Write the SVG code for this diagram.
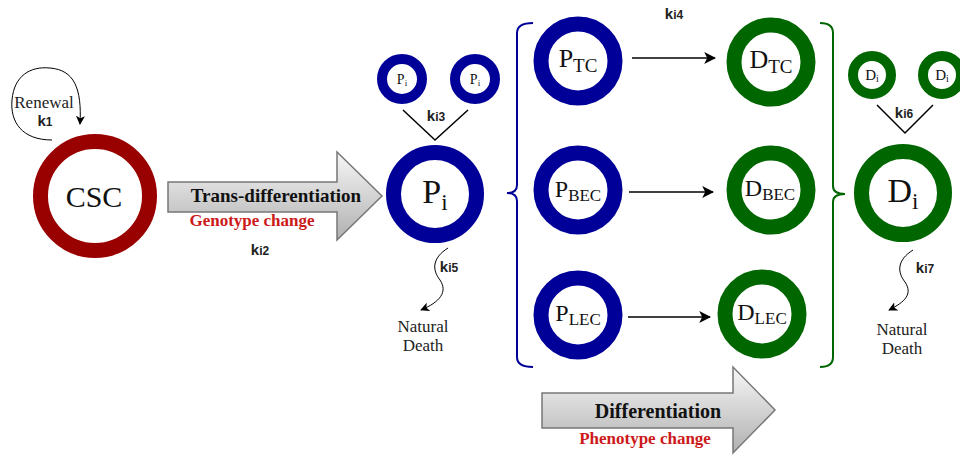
<svg xmlns="http://www.w3.org/2000/svg" width="960" height="458" viewBox="0 0 960 458">
<defs>
<linearGradient id="ag" x1="0" y1="0" x2="0" y2="1">
<stop offset="0" stop-color="#f7f7f7"/>
<stop offset="1" stop-color="#b0b0b0"/>
</linearGradient>
<marker id="ah" viewBox="0 0 10 10" refX="9" refY="5" markerWidth="9" markerHeight="9" markerUnits="userSpaceOnUse" orient="auto">
<path d="M0,0 L10,5 L0,10 L2.5,5 Z" fill="#000"/>
</marker>
<marker id="ah2" viewBox="0 0 10 10" refX="9" refY="5" markerWidth="12" markerHeight="12" markerUnits="userSpaceOnUse" orient="auto">
<path d="M0,0 L10,5 L0,10 L2.5,5 Z" fill="#000"/>
</marker>
</defs>
<style>
.red{fill:#fff;stroke:#990000;stroke-width:15}
.blue{fill:#fff;stroke:#000099;stroke-width:15}
.green{fill:#fff;stroke:#006600;stroke-width:15}
.sblue{fill:#fff;stroke:#000099;stroke-width:10}
.sgreen{fill:#fff;stroke:#006600;stroke-width:10}
.lbl{font-family:"Liberation Serif","DejaVu Serif",serif;fill:#111;text-anchor:middle}
.k{font-family:"Liberation Sans","DejaVu Sans",sans-serif;fill:#222;text-anchor:middle;font-weight:bold}
.nd{font-family:"Liberation Serif",serif;font-size:17px;fill:#222;text-anchor:middle}
.big{font-family:"Liberation Serif",serif;font-weight:bold;fill:#111;text-anchor:middle}
.chg{font-family:"Liberation Serif",serif;font-weight:bold;fill:#cc1a1a;text-anchor:middle;font-size:17px}
.ln{fill:none;stroke:#000;stroke-width:1.5}
.thin{fill:none;stroke:#000;stroke-width:1}
</style>
<rect width="960" height="458" fill="#fff"/>

<g id="trans-arrow">
<polygon points="168,182 337,182 337,152 382,196 337,240 337,212 168,212" fill="url(#ag)" stroke="#777" stroke-width="1.5"/>
<text class="big" x="276" y="202" font-size="19">Trans-differentiation</text>
<text class="chg" x="252" y="226">Genotype change</text>
</g>
<g id="diff-arrow">
<polygon points="542,393 733,393 733,367 775,410 733,453 733,428 542,428" fill="url(#ag)" stroke="#777" stroke-width="1.5"/>
<text class="big" x="658" y="418" font-size="20">Differentiation</text>
<text class="chg" x="645" y="444">Phenotype change</text>
</g>

<g id="connectors">
<path class="thin" d="M52,140 C22,140 10,122 12,100 C14,76 30,66 50,68 C74,70 82,88 80,124" marker-end="url(#ah)"/>
<path class="ln" d="M632,58 L715,58" marker-end="url(#ah2)"/>
<path class="ln" d="M629,192 L713,192" marker-end="url(#ah2)" stroke="#222"/>
<path class="ln" d="M628,317 L710,317" marker-end="url(#ah2)" stroke="#222"/>
<path class="ln" d="M403,110 L435,140 L468,110"/>
<path class="ln" d="M877,105 L905,133 L933,105"/>
<path class="thin" d="M448,248 C432,258 432,270 440,280 C448,292 440,302 421,310" marker-end="url(#ah)"/>
<path class="thin" d="M913,250 C897,260 897,272 905,282 C913,294 905,302 889,310" marker-end="url(#ah)"/>
<path d="M533,23 Q517,23 517,33 L517,185 Q517,193 507,193 Q517,193 517,201 L517,357 Q517,367 533,367" fill="none" stroke="#000099" stroke-width="2"/>
<path d="M820,23 Q833,23 833,33 L833,186 Q833,194 845,194 Q833,194 833,202 L833,357 Q833,367 820,367" fill="none" stroke="#006600" stroke-width="2"/>
</g>

<g id="renewal-label">
<text class="nd" x="44" y="108">Renewal</text>
<text class="k" x="45" y="126" font-size="15">k<tspan font-size="12">1</tspan></text>
</g>

<g id="CSC">
<circle class="red" cx="95" cy="196" r="54.5"/>
<text class="lbl" x="94" y="207" font-size="30">CSC</text>
</g>

<g id="ki2"><text class="k" x="260" y="255" font-size="15">k<tspan font-size="12">i2</tspan></text></g>

<g id="Pi-small-1">
<circle class="sblue" cx="402" cy="79" r="20"/>
<text class="lbl" x="402" y="84" font-size="14">P<tspan font-size="9" dy="2">i</tspan></text>
</g>
<g id="Pi-small-2">
<circle class="sblue" cx="475" cy="79" r="20"/>
<text class="lbl" x="475" y="84" font-size="14">P<tspan font-size="9" dy="2">i</tspan></text>
</g>
<g id="ki3"><text class="k" x="436" y="121" font-size="15">k<tspan font-size="12">i3</tspan></text></g>

<g id="Pi">
<circle class="blue" cx="435" cy="194" r="41.5"/>
<text class="lbl" x="435" y="203" font-size="34">P<tspan font-size="23" dy="7">i</tspan></text>
</g>
<g id="ki5"><text class="k" x="449" y="272" font-size="15">k<tspan font-size="12">i5</tspan></text></g>
<g id="Pi-death">
<text class="nd" x="423" y="332">Natural</text>
<text class="nd" x="423" y="351">Death</text>
</g>

<g id="ki4"><text class="k" x="674" y="19" font-size="15">k<tspan font-size="12">i4</tspan></text></g>

<g id="PTC">
<circle class="blue" cx="578" cy="61" r="37"/>
<text class="lbl" x="578" y="67" font-size="26">P<tspan font-size="19" dy="5">TC</tspan></text>
</g>
<g id="PBEC">
<circle class="blue" cx="578" cy="190" r="37"/>
<text class="lbl" x="578" y="197" font-size="24">P<tspan font-size="17" dy="4">BEC</tspan></text>
</g>
<g id="PLEC">
<circle class="blue" cx="578" cy="315" r="37"/>
<text class="lbl" x="578" y="321" font-size="24">P<tspan font-size="17" dy="4">LEC</tspan></text>
</g>

<g id="DTC">
<circle class="green" cx="771" cy="62" r="37"/>
<text class="lbl" x="771" y="68" font-size="26">D<tspan font-size="19" dy="5">TC</tspan></text>
</g>
<g id="DBEC">
<circle class="green" cx="771" cy="190" r="37"/>
<text class="lbl" x="770" y="196" font-size="24">D<tspan font-size="17" dy="4">BEC</tspan></text>
</g>
<g id="DLEC">
<circle class="green" cx="762" cy="314" r="37"/>
<text class="lbl" x="762" y="320" font-size="24">D<tspan font-size="17" dy="4">LEC</tspan></text>
</g>

<g id="Di-small-1">
<circle class="sgreen" cx="872" cy="75" r="19"/>
<text class="lbl" x="872" y="80" font-size="15">D<tspan font-size="10" dy="2">i</tspan></text>
</g>
<g id="Di-small-2">
<circle class="sgreen" cx="942" cy="75" r="19"/>
<text class="lbl" x="942" y="80" font-size="15">D<tspan font-size="10" dy="2">i</tspan></text>
</g>
<g id="ki6"><text class="k" x="904" y="118" font-size="15">k<tspan font-size="12">i6</tspan></text></g>

<g id="Di">
<circle class="green" cx="903" cy="193" r="41.5"/>
<text class="lbl" x="903" y="202" font-size="34">D<tspan font-size="23" dy="7">i</tspan></text>
</g>
<g id="ki7"><text class="k" x="925" y="273" font-size="15">k<tspan font-size="12">i7</tspan></text></g>
<g id="Di-death">
<text class="nd" x="902" y="335">Natural</text>
<text class="nd" x="902" y="354">Death</text>
</g>
</svg>
